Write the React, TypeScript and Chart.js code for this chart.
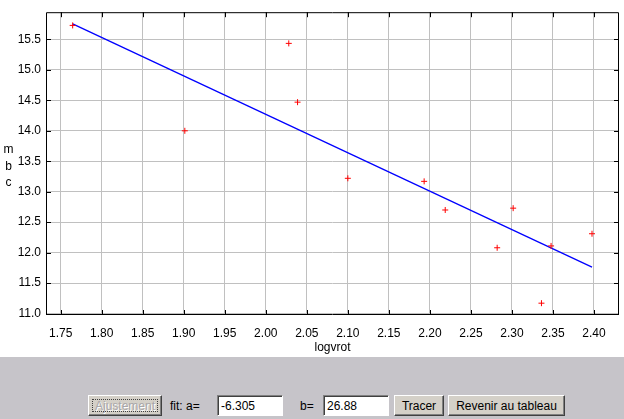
import React, { useEffect, useRef } from "react";
import { Chart, registerables } from "chart.js";

Chart.register(...registerables);

// ---- data ----
const logvrot = [1.7646, 1.9013, 2.028, 2.0387, 2.1, 2.193, 2.2187, 2.282, 2.3015, 2.3477, 2.3976, 2.336];
const mbc = [15.73, 14.0, 15.435, 14.47, 13.22, 13.17, 12.7, 12.08, 12.73, 12.11, 12.31, 11.17];
const fitA = -6.305;
const fitB = 26.88;
const xTicks = [1.75, 1.8, 1.85, 1.9, 1.95, 2.0, 2.05, 2.1, 2.15, 2.2, 2.25, 2.3, 2.35, 2.4];
const yTicks = [11.0, 11.5, 12.0, 12.5, 13.0, 13.5, 14.0, 14.5, 15.0, 15.5];
const xTitle = "logvrot";
const yTitleLetters = ["m", "b", "c"];

const FONT = "'Liberation Sans', Arial, sans-serif";

const framePlugin = {
  id: "frame",
  afterDraw(chart: any) {
    const ctx = chart.ctx;
    const { left, top, right, bottom } = chart.chartArea;
    const xs = chart.scales.x;
    const ys = chart.scales.y;
    ctx.save();
    ctx.strokeStyle = "#000";
    ctx.lineWidth = 1;
    ctx.beginPath();
    ctx.rect(left + 0.5, top + 0.5, right - left - 1, bottom - top - 1);
    ctx.stroke();
    ctx.beginPath();
    for (const v of xTicks) {
      const px = Math.round(xs.getPixelForValue(v)) + 0.5;
      ctx.moveTo(px, bottom);
      ctx.lineTo(px, bottom - 5);
      ctx.moveTo(px, top);
      ctx.lineTo(px, top + 5);
    }
    for (const v of yTicks) {
      const py = Math.round(ys.getPixelForValue(v)) + 0.5;
      ctx.moveTo(left, py);
      ctx.lineTo(left + 5, py);
      ctx.moveTo(right, py);
      ctx.lineTo(right - 5, py);
    }
    ctx.stroke();
    // titles
    ctx.fillStyle = "#000";
    ctx.font = `12px ${FONT}`;
    ctx.textAlign = "center";
    ctx.textBaseline = "alphabetic";
    ctx.fillText(xTitle, (left + right) / 2, 351);
    const baselines = [153, 170, 186];
    yTitleLetters.forEach((t, i) => ctx.fillText(t, 8.5, baselines[i]));
    ctx.restore();
  },
};

function Panel() {
  const btn: React.CSSProperties = {
    position: "absolute",
    top: 38,
    height: 21,
    boxSizing: "border-box",
    background: "#d4d0c8",
    borderStyle: "solid",
    borderWidth: 1,
    borderColor: "#ffffff #404040 #404040 #ffffff",
    boxShadow: "inset -1px -1px 0 #808080",
    font: `12px ${FONT}`,
    color: "#000",
    display: "flex",
    alignItems: "center",
    justifyContent: "center",
    whiteSpace: "nowrap",
  };
  const box: React.CSSProperties = {
    position: "absolute",
    top: 38,
    height: 21,
    width: 66,
    boxSizing: "border-box",
    background: "#fff",
    borderStyle: "solid",
    borderWidth: 1,
    borderColor: "#808080 #ffffff #ffffff #808080",
    boxShadow: "inset 1px 1px 0 #404040",
    font: `12px ${FONT}`,
    color: "#000",
    display: "flex",
    alignItems: "center",
    paddingLeft: 3,
  };
  const lbl: React.CSSProperties = {
    position: "absolute",
    top: 38,
    height: 21,
    font: `12px ${FONT}`,
    color: "#000",
    display: "flex",
    alignItems: "center",
    whiteSpace: "nowrap",
  };
  return (
    <div style={{ position: "absolute", left: 0, top: 357, width: 624, height: 62, background: "#c6c4c9" }}>
      <div style={{ ...btn, left: 88, width: 74, color: "#a8a6a8", textShadow: "1px 1px 0 #ffffff" }}>
        <div style={{ position: "absolute", inset: 3, border: "1px dotted #404040" }} />
        Ajustement
      </div>
      <div style={{ ...lbl, left: 170 }}>fit: a=</div>
      <div style={{ ...box, left: 217 }}>-6.305</div>
      <div style={{ ...lbl, left: 300 }}>b=</div>
      <div style={{ ...box, left: 323 }}>26.88</div>
      <div style={{ ...btn, left: 394, width: 50 }}>Tracer</div>
      <div style={{ ...btn, left: 448, width: 117 }}>Revenir au tableau</div>
    </div>
  );
}

export default function App() {
  const ref = useRef<HTMLCanvasElement | null>(null);
  useEffect(() => {
    if (!ref.current) return;
    const xMinData = Math.min(...logvrot);
    const xMaxData = Math.max(...logvrot);
    const chart = new Chart(ref.current, {
      type: "scatter",
      data: {
        datasets: [
          {
            data: logvrot.map((x, i) => ({ x, y: mbc[i] })),
            pointStyle: "cross",
            pointRadius: 3,
            borderColor: "#ff0000",
            backgroundColor: "#ff0000",
            borderWidth: 1,
          },
          {
            data: [
              { x: xMinData, y: fitA * xMinData + fitB },
              { x: xMaxData, y: fitA * xMaxData + fitB },
            ],
            showLine: true,
            borderColor: "#0000ff",
            borderWidth: 1.3,
            pointRadius: 0,
          },
        ],
      },
      options: {
        animation: false,
        responsive: false,
        devicePixelRatio: 1,
        layout: { padding: { top: 8, right: 4, left: 0, bottom: 0 } },
        plugins: { legend: { display: false }, tooltip: { enabled: false } },
        scales: {
          x: {
            type: "linear",
            min: 1.7321,
            max: 2.4305,
            afterBuildTicks: (s: any) => {
              s.ticks = xTicks.map((v) => ({ value: v }));
            },
            afterFit: (s: any) => {
              s.height = 42;
            },
            ticks: {
              callback: (v: any) => Number(v).toFixed(2),
              font: { family: FONT, size: 12 },
              color: "#000",
              padding: 11,
              maxRotation: 0,
              autoSkip: false,
            },
            grid: { color: "#c0c0c0", lineWidth: 1, drawTicks: false },
            border: { display: false },
          },
          y: {
            type: "linear",
            min: 10.976,
            max: 15.947,
            afterBuildTicks: (s: any) => {
              s.ticks = yTicks.map((v) => ({ value: v }));
            },
            afterFit: (s: any) => {
              s.width = 46;
            },
            ticks: {
              callback: (v: any) => Number(v).toFixed(1),
              font: { family: FONT, size: 12 },
              color: "#000",
              padding: 5,
              autoSkip: false,
            },
            grid: { color: "#c0c0c0", lineWidth: 1, drawTicks: false },
            border: { display: false },
          },
        },
      },
      plugins: [framePlugin],
    });
    return () => chart.destroy();
  }, []);
  return (
    <div style={{ position: "fixed", left: 0, top: 0, width: 624, height: 419, background: "#fff", overflow: "hidden" }}>
      <canvas ref={ref} width={624} height={357} style={{ position: "absolute", left: 0, top: 0, width: 624, height: 357 }} />
      <Panel />
    </div>
  );
}
